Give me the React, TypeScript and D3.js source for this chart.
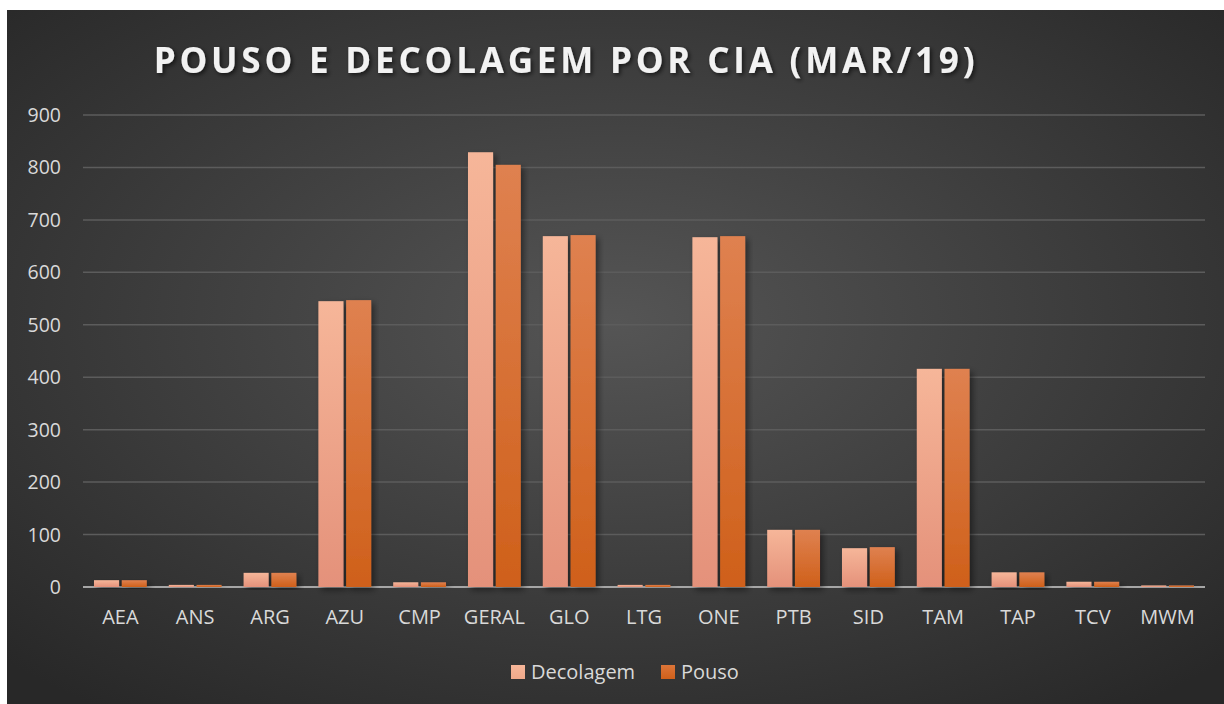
import React from "react";
import * as d3 from "d3";

const categories = ["AEA","ANS","ARG","AZU","CMP","GERAL","GLO","LTG","ONE","PTB","SID","TAM","TAP","TCV","MWM"];
const decolagem = [13,4,27,545,9,829,669,4,667,109,74,416,28,10,3];
const pouso = [13,4,27,547,9,805,671,4,669,109,76,416,28,10,3];
const seriesNames = ["Decolagem","Pouso"];
const yTicks = [0,100,200,300,400,500,600,700,800,900];

const W = 1224, H = 704;
const box = { x: 7, y: 10, w: 1217, h: 694 };
const plot = { left: 83, right: 1205, top: 115, bottom: 587 };
const FONT = "'Open Sans', 'DejaVu Sans', sans-serif";

export default function App() {
  const x0 = d3.scaleBand<string>().domain(categories).range([plot.left, plot.right]).paddingInner(0).paddingOuter(0);
  const bw = x0.bandwidth();
  const x1 = d3.scaleBand<string>().domain(seriesNames).range([bw * 0.147, bw * 0.853]).paddingInner(0.095);
  const y = d3.scaleLinear().domain([0, 900]).range([plot.bottom, plot.top]);
  const data = [decolagem, pouso];
  const fills = ["url(#gDec)", "url(#gPou)"];

  return (
    <svg width={W} height={H} style={{ position: "absolute", left: 0, top: 0 }}>
      <defs>
        <radialGradient id="bg" cx="50%" cy="45%" r="70%">
          <stop offset="0%" stopColor="#555555" />
          <stop offset="100%" stopColor="#282828" />
        </radialGradient>
        <linearGradient id="gDec" x1="0" y1="0" x2="0" y2="1">
          <stop offset="0%" stopColor="#f6b699" />
          <stop offset="100%" stopColor="#e4917a" />
        </linearGradient>
        <linearGradient id="gPou" x1="0" y1="0" x2="0" y2="1">
          <stop offset="0%" stopColor="#df8150" />
          <stop offset="100%" stopColor="#cf601a" />
        </linearGradient>
        <linearGradient id="lDec" x1="0" y1="0" x2="0" y2="1">
          <stop offset="0%" stopColor="#f6b699" />
          <stop offset="100%" stopColor="#f0a98a" />
        </linearGradient>
        <linearGradient id="lPou" x1="0" y1="0" x2="0" y2="1">
          <stop offset="0%" stopColor="#dc7538" />
          <stop offset="100%" stopColor="#cf601a" />
        </linearGradient>
        <filter id="shadow" x="-20%" y="-10%" width="150%" height="130%">
          <feDropShadow dx="3" dy="3" stdDeviation="3" floodColor="#000" floodOpacity="0.45" />
        </filter>
        <filter id="tshadow" x="-5%" y="-20%" width="110%" height="150%">
          <feDropShadow dx="2" dy="2" stdDeviation="2" floodColor="#000" floodOpacity="0.6" />
        </filter>
      </defs>
      <rect x={box.x} y={box.y} width={box.w} height={box.h} fill="url(#bg)" />
      <text x={566} y={73} textAnchor="middle" fill="#f2f2f2" fontFamily={FONT} fontWeight={700} fontSize={35} letterSpacing={3.8} filter="url(#tshadow)">
        POUSO E DECOLAGEM POR CIA (MAR/19)
      </text>
      {yTicks.map(t => (
        <g key={t}>
          {t > 0 && <line x1={plot.left} x2={plot.right} y1={y(t)} y2={y(t)} stroke="#5c5c5c" strokeWidth={1.5} />}
          <text x={61} y={y(t) + 7} textAnchor="end" fill="#d9d9d9" fontFamily={FONT} fontSize={19.5}>{t}</text>
        </g>
      ))}
      <line x1={plot.left} x2={plot.right} y1={y(0)} y2={y(0)} stroke="#a6a6a6" strokeWidth={2} />
      {categories.map((c, i) => (
        <g key={c}>
          {data.map((s, k) => (
            <rect key={k} x={x0(c)! + x1(seriesNames[k])!} y={y(s[i])} width={x1.bandwidth()} height={y(0) - y(s[i])} fill={fills[k]} filter="url(#shadow)" />
          ))}
          <text x={x0(c)! + bw / 2} y={624} textAnchor="middle" fill="#d9d9d9" fontFamily={FONT} fontSize={20}>{c}</text>
        </g>
      ))}
      <g>
        <rect x={511} y={665} width={14} height={14} fill="url(#lDec)" />
        <text x={531} y={679} fill="#d9d9d9" fontFamily={FONT} fontSize={20}>{seriesNames[0]}</text>
        <rect x={661} y={665} width={14} height={14} fill="url(#lPou)" />
        <text x={681} y={679} fill="#d9d9d9" fontFamily={FONT} fontSize={20}>{seriesNames[1]}</text>
      </g>
    </svg>
  );
}
